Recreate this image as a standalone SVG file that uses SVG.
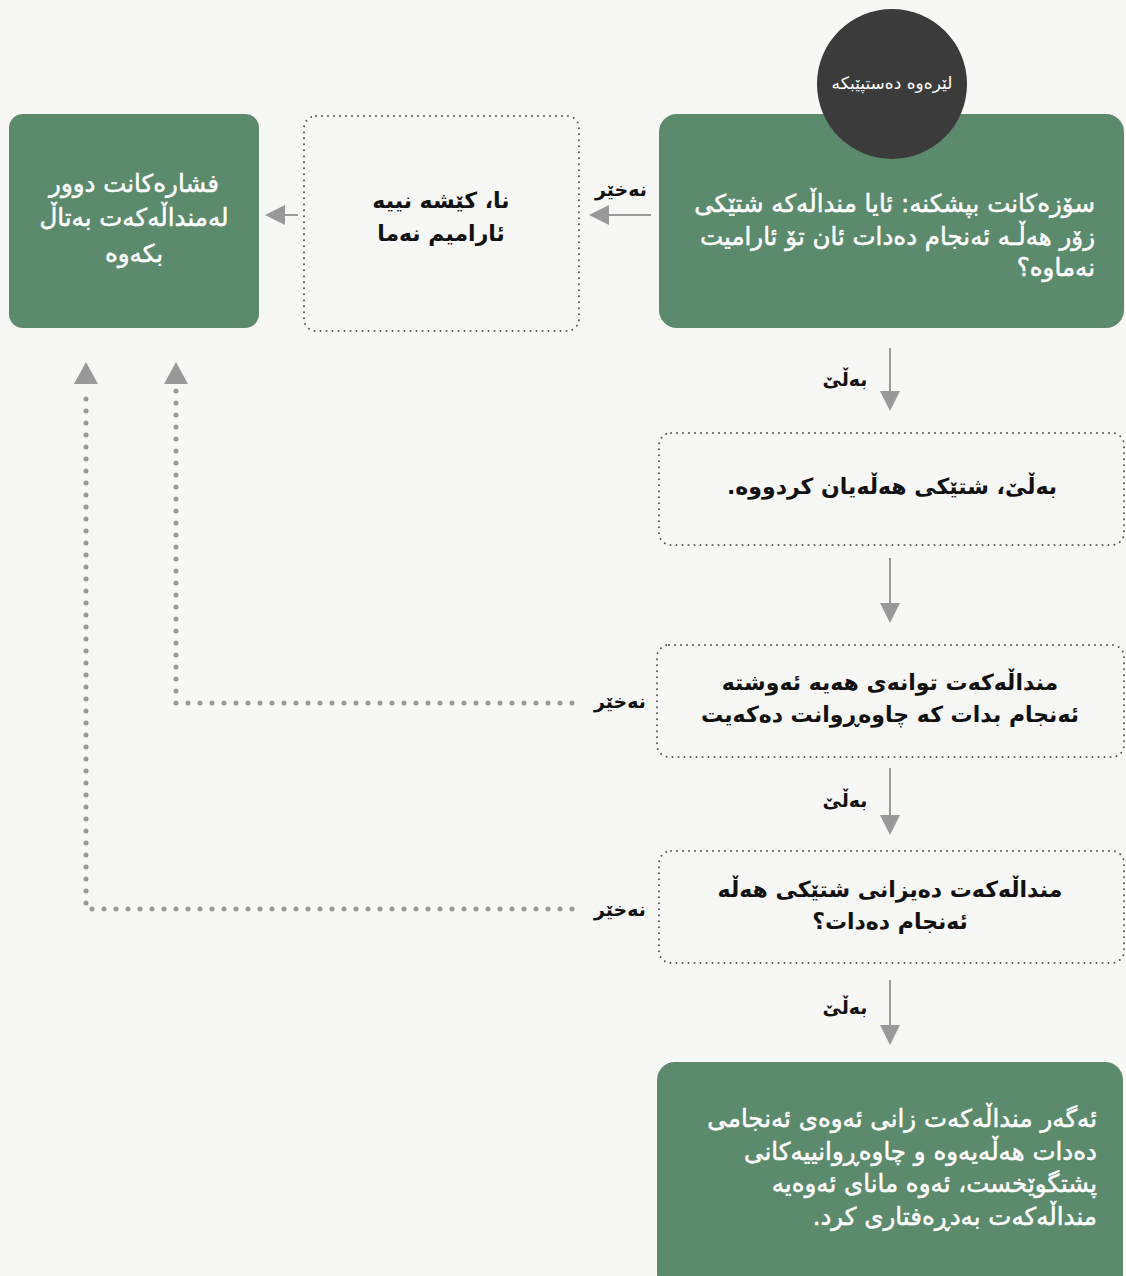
<svg xmlns="http://www.w3.org/2000/svg" width="1126" height="1276" viewBox="0 0 1126 1276">
<defs>
<marker id="ah" markerWidth="20" markerHeight="20" viewBox="0 0 20 20" refX="18" refY="10" orient="auto" markerUnits="userSpaceOnUse">
<path d="M0,0 L20,10 L0,20 Z" fill="#999"/>
</marker>
</defs>
<style>
.bg{fill:#f7f7f5}
.green{fill:#5c8a6c}
.dotbox{fill:none;stroke:#555;stroke-width:2;stroke-dasharray:0 6;stroke-linecap:round}
.wt{font-family:"DejaVu Sans",sans-serif;font-size:24.5px;fill:#fff;stroke:#fff;stroke-width:0.5;direction:rtl}
.bt{font-family:"DejaVu Sans",sans-serif;font-size:22px;font-weight:bold;fill:#111;direction:rtl}
.lbl{font-family:"DejaVu Sans",sans-serif;font-size:19px;font-weight:bold;fill:#111;direction:rtl}
.solid{stroke:#999;stroke-width:2;fill:none}
.dots{stroke:#999;stroke-width:5;fill:none;stroke-dasharray:0 12;stroke-linecap:round}
</style>
<rect class="bg" x="0" y="0" width="1126" height="1276"/>

<g id="connectors">
<line class="solid" x1="651" y1="215" x2="591" y2="215" marker-end="url(#ah)"/>
<line class="solid" x1="298" y1="215" x2="267" y2="215" marker-end="url(#ah)"/>
<line class="solid" x1="890" y1="348" x2="890" y2="409" marker-end="url(#ah)"/>
<line class="solid" x1="890" y1="558" x2="890" y2="621" marker-end="url(#ah)"/>
<line class="solid" x1="890" y1="768" x2="890" y2="833" marker-end="url(#ah)"/>
<line class="solid" x1="890" y1="980" x2="890" y2="1043" marker-end="url(#ah)"/>
<path class="dots" d="M572,703 L176,703 L176,390"/>
<path d="M164,384 L176,362 L188,384 Z" fill="#999"/>
<path class="dots" d="M572,909 L86,909 L86,390"/>
<path d="M74,384 L86,362 L98,384 Z" fill="#999"/>
<text class="lbl" x="621" y="196" text-anchor="middle">نەخێر</text>
<text class="lbl" x="845" y="386" text-anchor="middle">بەڵێ</text>
<text class="lbl" x="620" y="708" text-anchor="middle">نەخێر</text>
<text class="lbl" x="845" y="807" text-anchor="middle">بەڵێ</text>
<text class="lbl" x="620" y="916" text-anchor="middle">نەخێر</text>
<text class="lbl" x="845" y="1014" text-anchor="middle">بەڵێ</text>
</g>

<g id="q1">
<rect class="green" x="659" y="114" width="465" height="214" rx="18"/>
<text class="wt" x="1095" y="212" text-anchor="start">سۆزەکانت بپشکنە: ئایا منداڵەکە شتێکی</text>
<text class="wt" x="1095" y="245" text-anchor="start">زۆر هەڵـە ئەنجام دەدات ئان تۆ ئارامیت</text>
<text class="wt" x="1095" y="276" text-anchor="start">نەماوە؟</text>
</g>

<g id="start">
<circle cx="892" cy="84" r="75" fill="#3b3b3b"/>
<text x="892" y="89" text-anchor="middle" style="font-family:'DejaVu Sans',sans-serif;font-size:17px;fill:#fff;direction:rtl">لێرەوە دەستپێبکە</text>
</g>

<g id="no-problem">
<rect class="dotbox" x="304" y="116" width="275" height="215" rx="12"/>
<text class="bt" x="441" y="208" text-anchor="middle">نا، کێشە نییە</text>
<text class="bt" x="441" y="241" text-anchor="middle">ئارامیم نەما</text>
</g>

<g id="release">
<rect class="green" x="9" y="114" width="250" height="214" rx="14"/>
<text class="wt" x="134" y="192" text-anchor="middle">فشارەکانت دوور</text>
<text class="wt" x="134" y="226" text-anchor="middle">لەمنداڵەکەت بەتاڵ</text>
<text class="wt" x="134" y="262" text-anchor="middle">بکەوە</text>
</g>

<g id="yes-mistake">
<rect class="dotbox" x="659" y="433" width="465" height="112" rx="12"/>
<text class="bt" x="892" y="494" text-anchor="middle">بەڵێ، شتێکی هەڵەیان کردووە.</text>
</g>

<g id="ability">
<rect class="dotbox" x="657" y="645" width="467" height="112" rx="12"/>
<text class="bt" x="890" y="690" text-anchor="middle">منداڵەکەت توانەی هەیە ئەوشتە</text>
<text class="bt" x="890" y="722" text-anchor="middle">ئەنجام بدات کە چاوەڕوانت دەکەیت</text>
</g>

<g id="knows">
<rect class="dotbox" x="659" y="851" width="465" height="112" rx="12"/>
<text class="bt" x="890" y="897" text-anchor="middle">منداڵەکەت دەیزانی شتێکی هەڵە</text>
<text class="bt" x="890" y="929" text-anchor="middle">ئەنجام دەدات؟</text>
</g>

<g id="misbehave">
<rect class="green" x="657" y="1062" width="466" height="230" rx="18"/>
<text class="wt" x="1097" y="1127" text-anchor="start">ئەگەر منداڵەکەت زانی ئەوەی ئەنجامی</text>
<text class="wt" x="1097" y="1160" text-anchor="start">دەدات هەڵەیەوە و چاوەڕوانییەکانی</text>
<text class="wt" x="1097" y="1192" text-anchor="start">پشتگوێخست، ئەوە مانای ئەوەیە</text>
<text class="wt" x="1097" y="1225" text-anchor="start">منداڵەکەت بەدڕەفتاری کرد.</text>
</g>
</svg>
